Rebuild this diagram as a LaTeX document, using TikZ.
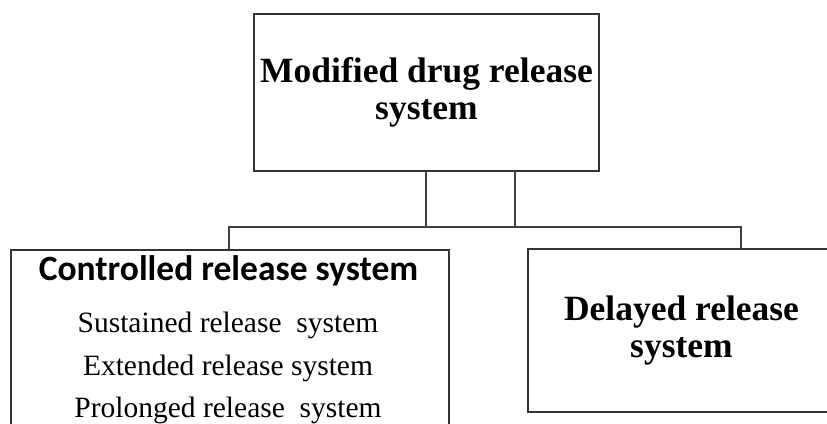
\documentclass[tikz,border=0pt]{standalone}
\usepackage{fontspec}
\setmainfont{Liberation Serif}
\newfontfamily\calib{Carlito}
\begin{document}
\begin{tikzpicture}[x=1pt,y=-1pt,
  frame/.style={draw=black!80, line width=1.5pt, inner sep=0pt},
  link/.style={draw=black!75, line width=1.5pt},
  headtext/.style={font=\fontsize{35.5}{37}\selectfont\bfseries, align=center},
  subhead/.style={anchor=base, inner sep=0pt, font=\calib\bfseries\fontsize{35.5}{40}\selectfont},
  itemtext/.style={anchor=base, inner sep=0pt, font=\fontsize{29.5}{34}\selectfont}]
\useasboundingbox (0,0) rectangle (827,423);
\clip (0,0) rectangle (827,423);

% boxes
\node[frame, minimum width=345pt, minimum height=157pt, headtext] (root) at (426.5,92.5)
  {Modified drug release\\system};
\node[frame, minimum width=438pt, minimum height=200pt] (ctrl) at (230,350) {};
\node[frame, minimum width=307pt, minimum height=163pt, headtext] (delay) at (681.5,330.5)
  {Delayed release\\system};

% contents of the controlled release box
\node[subhead] (ctrlhead) at (228.5,280) {Controlled release system};
\node[itemtext] (sust) at (228,332) {Sustained release\ \ system};
\node[itemtext] (ext) at (228,375) {Extended release system};
\node[itemtext] (prol) at (228,417) {Prolonged release\ \ system};

% connectors
\coordinate (bus) at (0,227);
\coordinate (lj) at ([xshift=-0.5pt]root.south);
\coordinate (rj) at ([xshift=88.5pt]root.south);
\coordinate (cj) at ([xshift=-1pt]ctrl.north);
\coordinate (dj) at ([xshift=59.5pt]delay.north);
\draw[link] (lj) -- (lj |- bus) -- (rj |- bus) -- (rj);
\draw[link] (cj) -- (cj |- bus) -- (dj |- bus) -- (dj);
\end{tikzpicture}
\end{document}
